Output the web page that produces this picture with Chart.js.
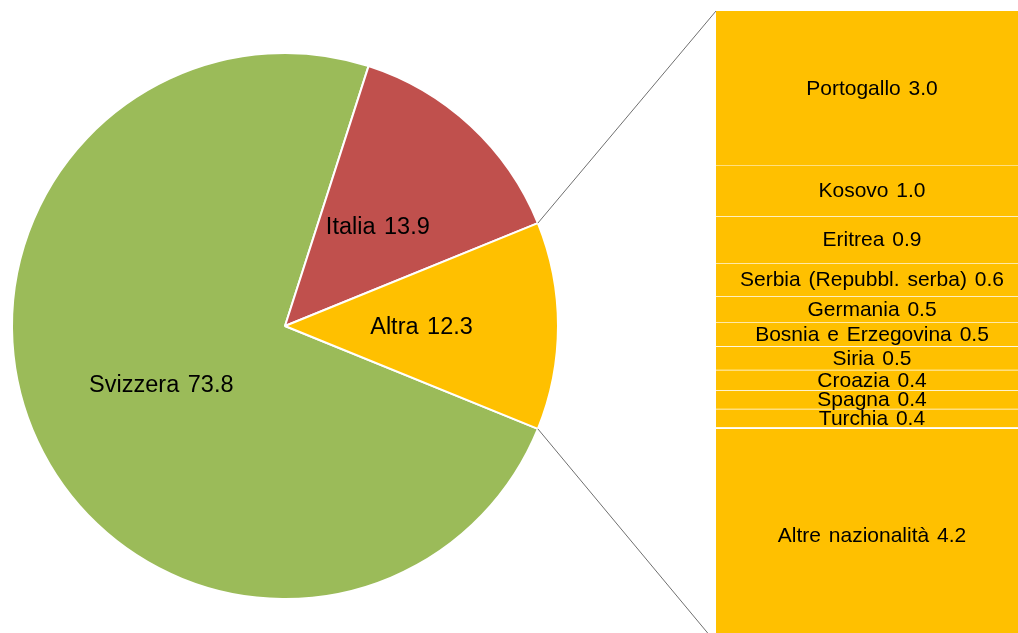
<!DOCTYPE html>
<html><head><meta charset="utf-8">
<script src="https://cdn.jsdelivr.net/npm/chart.js@4.4.1/dist/chart.umd.min.js"></script>
<style>
html,body{margin:0;padding:0;background:#fff;overflow:hidden;width:1018px;height:633px;}
#pie{position:absolute;left:0;top:0;}
#bar{position:absolute;left:716px;top:11px;}
</style></head><body>
<canvas id="pie" width="1018" height="633"></canvas>
<canvas id="bar" width="312" height="632"></canvas>
<script>
const pieCategories = ['Svizzera', 'Italia', 'Altra'];
const pieValues = [73.8, 13.9, 12.3];
const pieColors = ['#9BBB59', '#C0504D', '#FFC000'];

const barCategories = ['Portogallo', 'Kosovo', 'Eritrea', 'Serbia (Repubbl. serba)', 'Germania',
  'Bosnia e Erzegovina', 'Siria', 'Croazia', 'Spagna', 'Turchia', 'Altre nazionalità'];
const barValues = [3.0, 1.0, 0.92, 0.64, 0.51, 0.47, 0.46, 0.40, 0.36, 0.36, 4.21];
const barColor = '#FFC000';

const FONT = '"Liberation Sans", Arial, Helvetica, sans-serif';
Chart.defaults.font.family = FONT;

const barTotal = barValues.reduce((a, b) => a + b, 0);

function setSpacing(ctx, px) {
  if ('wordSpacing' in ctx) ctx.wordSpacing = px + 'px';
}

const barLabelPlugin = {
  id: 'barLabels',
  afterDatasetsDraw(chart) {
    const ctx = chart.ctx;
    ctx.save();
    ctx.font = '21px ' + FONT;
    setSpacing(ctx, 2);
    ctx.fillStyle = '#000';
    ctx.textAlign = 'center';
    ctx.textBaseline = 'middle';
    chart.data.datasets.forEach((ds, i) => {
      const el = chart.getDatasetMeta(i).data[0];
      const cy = (el.y + el.base) / 2;
      ctx.fillText(ds.label + ' ' + ds.data[0].toFixed(1), el.x, cy + 1);
    });
    ctx.restore();
  }
};

const barChart = new Chart(document.getElementById('bar'), {
  type: 'bar',
  data: {
    labels: [''],
    datasets: barCategories.map((c, i) => ({
      label: c,
      data: [barValues[i]],
      backgroundColor: barColor,
      borderColor: i === barCategories.length - 1 ? '#FFFFFF' : 'rgba(255,255,255,0.55)',
      borderWidth: { top: i === 0 ? 0 : (i === barCategories.length - 1 ? 2 : 1), right: 0, bottom: 0, left: 0 },
      borderSkipped: false,
      barPercentage: 1,
      categoryPercentage: 1
    }))
  },
  options: {
    responsive: false,
    animation: false,
    layout: { padding: 0 },
    plugins: { legend: { display: false }, tooltip: { enabled: false } },
    scales: {
      x: { stacked: true, display: false },
      y: { stacked: true, display: false, reverse: true, min: 0, max: barTotal }
    }
  },
  plugins: [barLabelPlugin]
});

const pieLabelPlugin = {
  id: 'pieLabels',
  afterDatasetsDraw(chart) {
    const ctx = chart.ctx;
    const meta = chart.getDatasetMeta(0);
    ctx.save();
    ctx.font = '23.5px ' + FONT;
    setSpacing(ctx, 2);
    ctx.fillStyle = '#000';
    ctx.textAlign = 'center';
    ctx.textBaseline = 'middle';
    meta.data.forEach((arc, i) => {
      const p = arc.getCenterPoint();
      ctx.fillText(chart.data.labels[i] + ' ' + chart.data.datasets[0].data[i].toFixed(1), p.x, p.y + 2);
    });
    setSpacing(ctx, 0);
    // connector lines from "Altra" slice to the bar
    const arc = meta.data[pieCategories.indexOf('Altra')];
    const barCanvas = document.getElementById('bar');
    const ox = barCanvas.offsetLeft, oy = barCanvas.offsetTop;
    const first = barChart.getDatasetMeta(0).data[0];
    const last = barChart.getDatasetMeta(barCategories.length - 1).data[0];
    const bx = ox + first.x - first.width / 2;
    const byTop = oy + Math.min(first.y, first.base);
    const byBot = oy + Math.max(last.y, last.base);
    const r = arc.outerRadius;
    const sx = arc.x + r * Math.cos(arc.startAngle), sy = arc.y + r * Math.sin(arc.startAngle);
    const ex = arc.x + r * Math.cos(arc.endAngle), ey = arc.y + r * Math.sin(arc.endAngle);
    ctx.strokeStyle = '#6F6F6F';
    ctx.lineWidth = 1;
    ctx.beginPath();
    ctx.moveTo(sx, sy); ctx.lineTo(bx, byTop);
    ctx.moveTo(ex, ey); ctx.lineTo(bx, byBot);
    ctx.stroke();
    ctx.restore();
  }
};

new Chart(document.getElementById('pie'), {
  type: 'pie',
  data: {
    labels: pieCategories,
    datasets: [{
      data: pieValues,
      backgroundColor: pieColors,
      borderColor: '#FFFFFF',
      borderWidth: 2
    }]
  },
  options: {
    responsive: false,
    animation: false,
    rotation: 112.14,
    layout: { padding: { left: 11, right: 459, top: 52, bottom: 33 } },
    plugins: { legend: { display: false }, tooltip: { enabled: false } }
  },
  plugins: [pieLabelPlugin]
});
</script>
</body></html>
